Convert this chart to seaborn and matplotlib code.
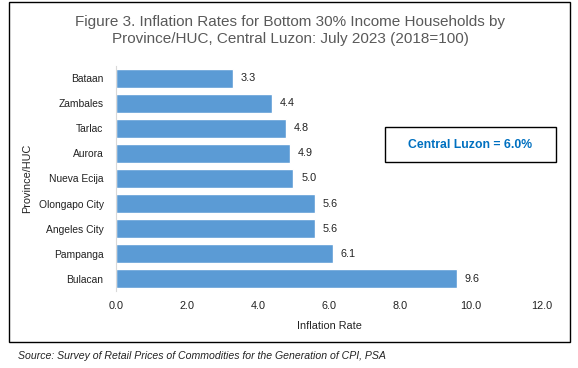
import matplotlib
matplotlib.use("Agg")
import matplotlib.pyplot as plt
import seaborn as sns
import pandas as pd
from matplotlib.patches import Rectangle

provinces = ["Bataan", "Zambales", "Tarlac", "Aurora", "Nueva Ecija",
             "Olongapo City", "Angeles City", "Pampanga", "Bulacan"]
rates = [3.3, 4.4, 4.8, 4.9, 5.0, 5.6, 5.6, 6.1, 9.6]
xticks = [0, 2, 4, 6, 8, 10, 12]

df = pd.DataFrame({"Province/HUC": provinces, "Inflation Rate": rates})

sns.set_style("white")
plt.rcParams["font.family"] = ["Liberation Sans", "DejaVu Sans"]

fig = plt.figure(figsize=(5.78, 3.68), dpi=100)
ax = fig.add_axes([0.2007, 0.209, 0.737, 0.612])

sns.barplot(data=df, x="Inflation Rate", y="Province/HUC", color="#5B9BD5",
            saturation=1, width=0.76, ax=ax, orient="h")

for i, v in enumerate(rates):
    ax.text(v + 0.22, i, f"{v:.1f}", va="center", ha="left", fontsize=7.8, color="#222222")

ax.set_xlim(0, 12)
ax.set_xticks(xticks)
ax.set_xticklabels([f"{t:.1f}" for t in xticks], fontsize=7.8, color="#222222")
ax.tick_params(axis="y", labelsize=7.4, colors="#222222", length=0, pad=9)
ax.tick_params(axis="x", length=0, pad=7)
ax.set_xlabel("Inflation Rate", fontsize=7.8, color="#222222", labelpad=7)
ax.set_ylabel("Province/HUC", fontsize=7.8, color="#222222")
ax.yaxis.set_label_coords(-0.198, 0.5)
for s in ["top", "right", "bottom"]:
    ax.spines[s].set_visible(False)
ax.spines["left"].set_color("#D9D9D9")
ax.spines["left"].set_linewidth(0.8)

fig.text(0.502, 0.917,
         "Figure 3. Inflation Rates for Bottom 30% Income Households by\nProvince/HUC, Central Luzon: July 2023 (2018=100)",
         ha="center", va="center", fontsize=11, color="#595959", linespacing=1.3)

# annotation box
fig.patches.append(Rectangle((385 / 578, 1 - 162 / 368), 171 / 578, 35 / 368,
                             transform=fig.transFigure, fill=False, ec="black", lw=1.0))
fig.text(470.5 / 578, 1 - 144.5 / 368, "Central Luzon = 6.0%", ha="center", va="center",
         fontsize=8.8, fontweight="bold", color="#0070C0")

# outer border
fig.patches.append(Rectangle((9 / 578, 1 - 342 / 368), 561 / 578, 340 / 368,
                             transform=fig.transFigure, fill=False, ec="black", lw=1.0))

fig.text(18 / 578, 1 - 356 / 368,
         "Source: Survey of Retail Prices of Commodities for the Generation of CPI, PSA",
         ha="left", va="center", fontsize=7.6, style="italic", color="#222222")

fig.savefig("out.png", dpi=100)
